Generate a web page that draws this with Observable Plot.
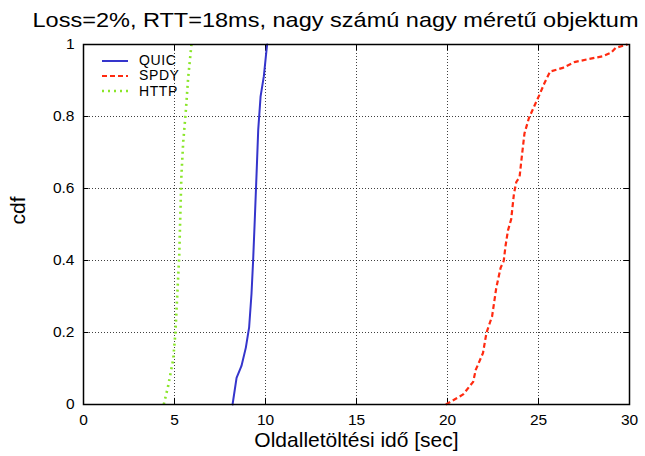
<!DOCTYPE html>
<html><head><meta charset="utf-8">
<script src="https://cdn.jsdelivr.net/npm/d3@7"></script>
<script src="https://cdn.jsdelivr.net/npm/@observablehq/plot@0.6"></script>
<style>
body{margin:0;background:#fff;font-family:"Liberation Sans",Arial,sans-serif;}
#wrap{position:relative;width:645px;height:456px;}
#legend{position:absolute;left:101px;top:53px;font-size:14px;line-height:15.4px;color:#000;}
#legend div{display:flex;align-items:center;height:15.4px;overflow:visible;}
#legend span{display:inline-block;height:15.4px;line-height:15.4px;letter-spacing:0.6px;}
#legend svg{margin-right:10px;}
</style></head><body>
<div id="wrap"><div id="chart"></div>
<div id="legend"></div></div>
<script>
const title = "Loss=2%, RTT=18ms, nagy számú nagy méretű objektum";
const xLabel = "Oldalletöltési idő [sec]";
const yLabel = "cdf";
const xTicks = [0,5,10,15,20,25,30];
const yTicks = [0,0.2,0.4,0.6,0.8,1];
const yTickLabels = ["0","0.2","0.4","0.6","0.8","1"];

const quicX = [8.19,8.41,8.68,8.92,9.10,9.23,9.32,9.41,9.51,9.60,9.73,9.91,10.02,10.09];
const quicY = [0,0.074,0.107,0.158,0.214,0.307,0.400,0.512,0.642,0.763,0.856,0.912,0.967,1.0];
const spdyX = [19.91,20.86,21.41,21.55,21.95,22.14,22.45,22.68,22.92,23.09,23.19,23.32,23.50,23.65,23.78,23.96,24.05,24.23,24.47,24.84,25.05,25.33,25.64,26.33,26.97,27.79,28.52,28.98,29.25,29.89];
const spdyY = [0,0.028,0.063,0.096,0.143,0.199,0.245,0.324,0.380,0.399,0.441,0.483,0.515,0.585,0.618,0.632,0.674,0.753,0.795,0.837,0.860,0.893,0.925,0.935,0.951,0.960,0.967,0.977,0.991,1.0];
const httpX = [4.41,4.65,4.93,5.05,5.15,5.26,5.33,5.38,5.48,5.62,5.75,5.93];
const httpY = [0,0.051,0.126,0.200,0.302,0.414,0.544,0.637,0.730,0.814,0.907,1.0];

const series = [
  {name:"QUIC", xs:quicX, ys:quicY, color:"#3535cc", dash:null, width:2},
  {name:"SPDY", xs:spdyX, ys:spdyY, color:"#ff2a10", dash:"5,3", width:2.2},
  {name:"HTTP", xs:httpX, ys:httpY, color:"#8ae62a", dash:"2,4", width:2.6}
];

const marks = [
  Plot.ruleX(xTicks.slice(1,-1), {stroke:"#000", strokeOpacity:0.75, strokeDasharray:"1,2", strokeWidth:1}),
  Plot.ruleY(yTicks.slice(1,-1), {stroke:"#000", strokeOpacity:0.75, strokeDasharray:"1,2", strokeWidth:1}),
  Plot.ruleX(xTicks, {y1:0, y2:0.017, stroke:"#000"}),
  Plot.ruleX(xTicks, {y1:1, y2:0.983, stroke:"#000"}),
  Plot.ruleY(yTicks, {x1:0, x2:0.3, stroke:"#000"}),
  Plot.ruleY(yTicks, {x1:30, x2:29.7, stroke:"#000"}),
];
for (const s of series) {
  const data = s.xs.map((x,i)=>({x, y:s.ys[i]}));
  marks.push(Plot.line(data, {x:"x", y:"y", stroke:s.color, strokeWidth:s.width,
    strokeDasharray:s.dash || undefined, strokeLinecap:s.dash ? "butt":"round", curve:"linear"}));
}
marks.push(
  Plot.frame({stroke:"#000", strokeWidth:1.5}),
  Plot.axisX(xTicks, {tickSize:0, tickPadding:9, fontSize:15.5, label:null}),
  Plot.axisY(yTicks, {tickSize:0, tickPadding:9, fontSize:15.5, label:null, tickFormat:(d,i)=>yTickLabels[i]}),
  Plot.text([title], {frameAnchor:"top", dx:-21, dy:-24, fontSize:21, lineAnchor:"middle", fill:"#000"}),
  Plot.text([xLabel], {frameAnchor:"bottom", dx:0, dy:36, fontSize:21, lineAnchor:"middle", fill:"#000"}),
  Plot.text([yLabel], {frameAnchor:"left", dx:-65, rotate:-90, fontSize:21, lineAnchor:"middle", fill:"#000"})
);

const chart = Plot.plot({
  width:645, height:456,
  marginLeft:83, marginRight:16, marginTop:44, marginBottom:52,
  style:{fontFamily:"'Liberation Sans', Arial, sans-serif", color:"#000", background:"#fff"},
  x:{domain:[0,30]},
  y:{domain:[0,1]},
  marks
});
for (const t of chart.querySelectorAll("text")) {
  if (t.textContent === title) { t.setAttribute("textLength", "606"); t.setAttribute("lengthAdjust", "spacingAndGlyphs"); }
}
document.getElementById("chart").appendChild(chart);

const leg = document.getElementById("legend");
for (const s of series) {
  const row = document.createElement("div");
  row.innerHTML = `<svg width="28" height="6"><line x1="1" y1="3" x2="27" y2="3" stroke="${s.color}" stroke-width="${s.width}" ${s.dash?`stroke-dasharray="${s.dash}"`:""}/></svg><span>${s.name}</span>`;
  leg.appendChild(row);
}
</script></body></html>
